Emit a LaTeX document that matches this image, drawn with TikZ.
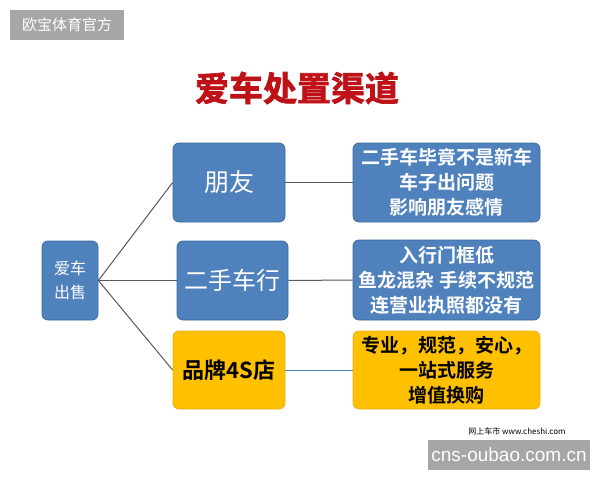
\documentclass[tikz,border=0pt]{standalone}
\usepackage{fontspec}
\setsansfont{Liberation Sans}
\newfontfamily\cjk{Noto Sans CJK SC}
\newfontfamily\cjkbf{Noto Sans CJK SC Bold}
\newfontfamily\cjktitle[FakeBold=2]{Noto Sans CJK SC Bold}
\usetikzlibrary{positioning,calc}
\definecolor{boxblue}{HTML}{4F81BD}
\definecolor{boxedge}{HTML}{3B6A9E}
\definecolor{boxyellow}{HTML}{FFC000}
\definecolor{yellowedge}{HTML}{E8B020}
\definecolor{titlered}{HTML}{BE1218}
\definecolor{markgray}{HTML}{A6A6A6}
\tikzset{every picture/.style={line width=0.75pt}}
\tikzset{
  bluebox/.style={draw=boxedge, fill=boxblue, rounded corners=6pt, text=white, align=center, inner sep=0pt},
  yellowbox/.style={draw=yellowedge, fill=boxyellow, rounded corners=6pt, text=black, align=center, inner sep=0pt},
  link/.style={draw=black!65, line width=1pt},
}

\begin{document}
\begin{tikzpicture}[x=1pt, y=-1pt]
    \useasboundingbox[fill=white] (0,0) rectangle (600,480);

    % 水印
    \fill[markgray] (10,10) rectangle (124,40);
    \node[text=white, font=\cjk\fontsize{15}{15}\selectfont] (markA) at (67,25) {欧宝体育官方};
    \fill[markgray] (428,440) rectangle (590,470);
    \node[text=white, font=\sffamily\fontsize{19}{19}\selectfont] (markB) at (509,455) {cns-oubao.com.cn};

    % 标题
    \node[text=titlered, font=\cjktitle\fontsize{34}{34}\selectfont] (title) at (297,88) {爱车处置渠道};

    % 左侧
    \node[bluebox, minimum width=56pt, minimum height=79pt, font=\cjk\fontsize{16}{24}\selectfont] (sell) at (70,280.5) {爱车\\出售};

    % 中间三个渠道
    \node[bluebox, minimum width=112pt, minimum height=79pt, font=\cjk\fontsize{25}{25}\selectfont] (friend) at (229,182.5) {朋友};
    \node[bluebox, minimum width=111pt, minimum height=79pt, font=\cjk\fontsize{24}{24}\selectfont] (dealer) at (232.5,280.5) {二手车行};
    \node[yellowbox, minimum width=112pt, minimum height=78pt, font=\cjkbf\fontsize{22}{22}\selectfont] (shop) at (229,370) {品牌4S店};

    % 右侧说明
    \node[bluebox, minimum width=187pt, minimum height=79pt, font=\cjkbf\fontsize{19}{25}\selectfont] (friendNote) at (446.5,182.5) {二手车毕竟不是新车\\车子出问题\\影响朋友感情};
    \node[bluebox, minimum width=187pt, minimum height=80pt, font=\cjkbf\fontsize{19}{25}\selectfont] (dealerNote) at (446.5,280) {入行门框低\\鱼龙混杂 手续不规范\\连营业执照都没有};
    \node[yellowbox, minimum width=187pt, minimum height=78pt, font=\cjkbf\fontsize{19}{25}\selectfont] (shopNote) at (446.5,370) {专业，规范，安心，\\一站式服务\\增值换购};

    % 连线
    \draw[link] (sell.east) -- (friend.west);
    \draw[link] (sell.east) -- (dealer.west);
    \draw[link] (sell.east) -- (shop.west);
    \draw[link] (friend.east) -- (friendNote.west);
    \draw[link] (dealer.east) -- (dealerNote.west);
    \draw[link, draw=boxblue] (shop.east) -- (shopNote.west);

    % 来源
    \node[font=\cjk\fontsize{8}{8}\selectfont] (source) at (517,431) {网上车市 www.cheshi.com};
\end{tikzpicture}
\end{document}
